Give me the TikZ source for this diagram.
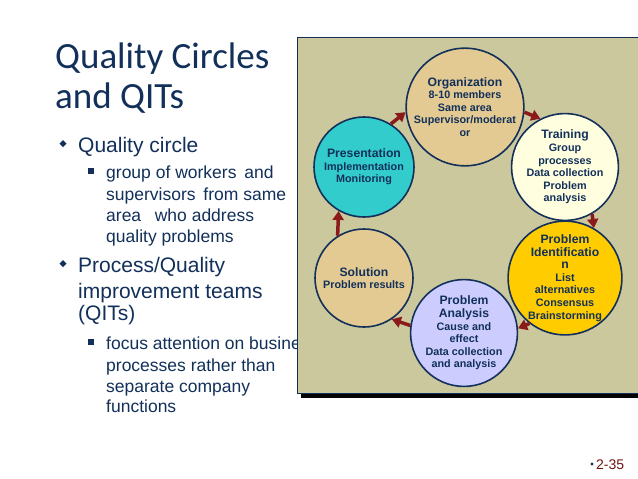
\documentclass[tikz,border=0pt]{standalone}
\usepackage{fontspec}
\setmainfont{Liberation Sans}
\newfontfamily\titlefont{Carlito}
\usetikzlibrary{arrows.meta}
\definecolor{navy}{HTML}{12305A}
\definecolor{boxfill}{HTML}{CCC89E}
\definecolor{tan}{HTML}{E3CA92}
\definecolor{cream}{HTML}{FFFFE0}
\definecolor{gold}{HTML}{FFCC00}
\definecolor{lilac}{HTML}{CCCCFF}
\definecolor{teal}{HTML}{33CCCC}
\definecolor{darkred}{HTML}{8B1A1A}
\tikzset{
  stage/.style={circle,draw=navy,line width=1.6pt,text=navy,align=center,
    font=\fontsize{10.8}{12.6}\selectfont\bfseries,inner sep=0pt},
  cyc/.style={-{Triangle[length=9pt,width=11pt]},draw=darkred,line width=3.5pt},
  body/.style={anchor=base west,text=navy,inner sep=0pt}
}
\newcommand{\hd}[1]{{\fontsize{12.2}{13.6}\selectfont #1}}
\begin{document}
\begin{tikzpicture}[x=1pt,y=-1pt]
  \useasboundingbox (0,0) rectangle (638,479);
  \fill[white] (0,0) rectangle (638,479);
  % left side text
  \node[body,font=\titlefont\fontsize{37}{37}\selectfont] (t1) at (55,68) {Quality Circles};
  \node[body,font=\titlefont\fontsize{37}{37}\selectfont] (t2) at (55,108) {and QITs};
  \node[body,font=\fontsize{21}{21}\selectfont] (b1) at (78,152) {Quality circle};
  \node[body,font=\fontsize{17.5}{17.5}\selectfont] (s1) at (106,178) {group of workers\, and};
  \node[body,font=\fontsize{17.5}{17.5}\selectfont] (s2) at (106,200) {supervisors\, from same};
  \node[body,font=\fontsize{17.5}{17.5}\selectfont] (s3) at (106,221) {area\,\,\, who address};
  \node[body,font=\fontsize{17.5}{17.5}\selectfont] (s4) at (106,242) {quality problems};
  \node[body,font=\fontsize{21}{21}\selectfont] (b2) at (78,272) {Process/Quality};
  \node[body,font=\fontsize{21}{21}\selectfont] (b3) at (78,298) {improvement teams};
  \node[body,font=\fontsize{21}{21}\selectfont] (b4) at (78,320) {(QITs)};
  \node[body,font=\fontsize{17.5}{17.5}\selectfont] (u1) at (106,349) {focus attention on business};
  \node[body,font=\fontsize{17.5}{17.5}\selectfont] (u2) at (106,371) {processes rather than};
  \node[body,font=\fontsize{17.5}{17.5}\selectfont] (u3) at (106,392) {separate company};
  \node[body,font=\fontsize{17.5}{17.5}\selectfont] (u4) at (106,412) {functions};
  % bullets
  \fill[navy] (63,140) -- (66.5,143.5) -- (63,147) -- (59.5,143.5) -- cycle;
  \fill[navy] (63,260) -- (66.5,263.5) -- (63,267) -- (59.5,263.5) -- cycle;
  \fill[navy] (88,168) rectangle (93.5,173.5);
  \fill[navy] (88,339) rectangle (93.5,344.5);
  % panel
  \fill[black] (301,393) rectangle (638,398);
  \filldraw[fill=boxfill,draw=navy,line width=0.8pt] (297,37) rectangle (640,393);
  % stages
  \node[stage,fill=tan,minimum size=114pt] (org) at (465,107)
    {\hd{Organization}\\8-10 members\\Same area\\Supervisor/moderat\\or};
  \node[stage,fill=cream,minimum size=100pt] (train) at (565,167)
    {\hd{Training}\\Group\\processes\\Data collection\\Problem\\analysis};
  \node[stage,fill=gold,minimum size=98pt] (ident) at (565,278)
    {\hd{Problem}\\\hd{Identificatio}\\\hd{n}\\List\\alternatives\\Consensus\\Brainstorming};
  \node[stage,fill=lilac,minimum size=97pt] (anal) at (464,333)
    {\hd{Problem}\\\hd{Analysis}\\Cause and\\effect\\Data collection\\and analysis};
  \node[stage,fill=tan,minimum size=98pt] (sol) at (364,278)
    {\hd{Solution}\\Problem results};
  \node[stage,fill=teal,minimum size=100pt] (pres) at (364,167)
    {\hd{Presentation}\\Implementation\\Monitoring};
  % cycle arrows
  \draw[cyc] (org.-5) -- (train.117);
  \draw[cyc] (train.-60) -- (ident.60);
  \draw[cyc] (ident.-128) -- (anal.5);
  \draw[cyc] (anal.172) -- (sol.-56);
  \draw[cyc] (sol.122) -- (pres.-120);
  \draw[cyc] (pres.58) -- (org.185);
  % slide number
  \fill[navy] (592,464) circle (1.6pt);
  \node[body,text=darkred!80!black,font=\fontsize{14}{14}\selectfont] (pg) at (596,469) {2-35};
\end{tikzpicture}
\end{document}
